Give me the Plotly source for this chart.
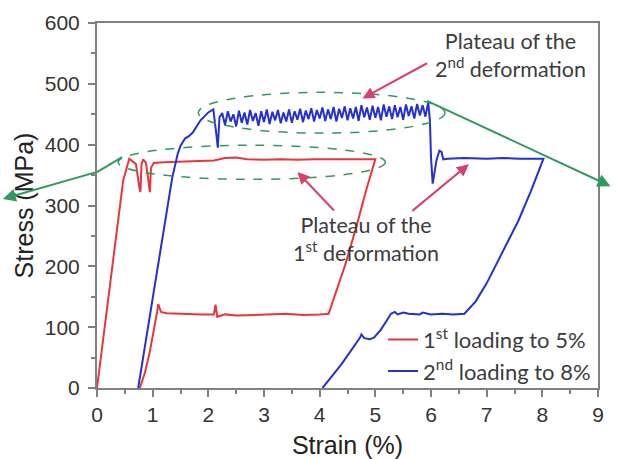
import plotly.graph_objects as go

# ---------------- data ----------------
# 1st loading to 5% (loading, plateau, unloading, lower plateau, unloading to zero)
red_strain = [0.00, 0.47, 0.58, 0.64, 0.70, 0.76, 0.78, 0.80, 0.83, 0.88, 0.93, 0.95, 0.97, 1.02,
              1.20, 1.50, 1.80, 2.10, 2.30, 2.50, 2.70, 3.00, 3.30, 3.60, 3.90, 4.20, 4.50, 4.80, 5.00,
              4.85, 4.65, 4.45, 4.30, 4.16,
              4.00, 3.70, 3.40, 3.10, 2.80, 2.50, 2.30, 2.16, 2.13, 2.10, 1.90, 1.60, 1.40, 1.25, 1.15, 1.10, 1.08,
              1.02, 0.95, 0.86, 0.77]
red_stress = [0, 341, 377, 372, 368, 330, 322, 368, 376, 370, 330, 322, 362, 370,
              371, 372, 373, 374, 378, 379, 376, 375, 376, 375, 376, 376, 375, 376, 376,
              330, 262, 200, 160, 122,
              121, 120, 122, 121, 120, 119, 121, 117, 137, 121, 121, 122, 123, 123, 125, 138, 125,
              95, 60, 25, 0]

# 2nd loading to 8%
blue_load_strain = [0.74, 1.20, 1.35, 1.45, 1.50, 1.58, 1.65, 1.72, 1.86, 2.00, 2.09, 2.14, 2.17, 2.20]
blue_load_stress = [0, 261, 345, 385, 398, 410, 414, 420, 440, 453, 458, 420, 395, 445]

blue_plateau_strain = [2.25, 2.30, 2.35, 2.40, 2.45, 2.50, 2.55, 2.60, 2.65, 2.70, 2.75, 2.80, 2.85, 2.90,
                       2.95, 3.00, 3.05, 3.10, 3.15, 3.20, 3.25, 3.30, 3.35, 3.40, 3.45, 3.50, 3.55, 3.60,
                       3.65, 3.70, 3.75, 3.80, 3.85, 3.90, 3.95, 4.00, 4.05, 4.10, 4.15, 4.20, 4.25, 4.30,
                       4.35, 4.40, 4.45, 4.50, 4.55, 4.60, 4.65, 4.70, 4.75, 4.80, 4.85, 4.90, 4.95, 5.00,
                       5.05, 5.10, 5.15, 5.20, 5.25, 5.30, 5.35, 5.40, 5.45, 5.50, 5.55, 5.60, 5.65, 5.70,
                       5.75, 5.80, 5.85, 5.90, 5.95]
blue_plateau_stress = [452, 432, 455, 438, 450, 430, 456, 436, 453, 433, 457, 439, 452, 431,
                       455, 437, 458, 434, 454, 440, 457, 435, 453, 438, 458, 436, 455, 441,
                       459, 437, 456, 442, 460, 438, 457, 443, 461, 439, 458, 442, 462, 438,
                       459, 444, 463, 440, 460, 443, 462, 439, 465, 445, 461, 441, 464, 444,
                       462, 440, 466, 446, 463, 442, 465, 445, 462, 441, 466, 447, 463, 443,
                       467, 448, 465, 446, 470]

blue_rest_strain = [5.98, 6.00, 6.03, 6.06, 6.10, 6.15, 6.19, 6.22, 6.30, 6.60, 7.00, 7.30, 7.60, 8.02,
                    7.80, 7.57, 7.30, 7.00, 6.80, 6.60,
                    6.40, 6.20, 6.00, 5.85, 5.80, 5.60, 5.50, 5.40, 5.35, 5.28,
                    5.20, 5.10, 4.98, 4.90, 4.80, 4.75, 4.72, 4.60, 4.40, 4.20, 4.05]
blue_rest_stress = [440, 380, 336, 350, 375, 390, 388, 376, 377, 378, 377, 378, 377, 377,
                    325, 275, 225, 172, 142, 122,
                    121, 122, 121, 124, 121, 122, 124, 121, 125, 122,
                    110, 96, 83, 80, 82, 88, 82, 66, 40, 17, 0]

blue_strain = blue_load_strain + blue_plateau_strain + blue_rest_strain
blue_stress = blue_load_stress + blue_plateau_stress + blue_rest_stress

x_ticks = [0, 1, 2, 3, 4, 5, 6, 7, 8, 9]
y_ticks = [0, 100, 200, 300, 400, 500, 600]

RED = "#e8363c"
BLUE = "#2430d0"
GREEN = "#2f9a5c"
PINK = "#d9406f"
AXIS = "#808080"
TXT = "#3c3c3c"
NOTE_FONT = dict(family="Lato", size=21.5, color=TXT)

fig = go.Figure()
fig.add_trace(go.Scatter(x=red_strain, y=red_stress, mode="lines",
                         line=dict(color=RED, width=2),
                         name="1<sup>st</sup> loading to 5%"))
fig.add_trace(go.Scatter(x=blue_strain, y=blue_stress, mode="lines",
                         line=dict(color=BLUE, width=2),
                         name="2<sup>nd</sup> loading to 8%"))

# dashed ellipses around the plateaus
fig.add_shape(type="circle", xref="x", yref="y", x0=0.38, x1=5.18, y0=343, y1=399,
              line=dict(color=GREEN, width=1.5, dash="dash"))
fig.add_shape(type="circle", xref="x", yref="y", x0=1.82, x1=6.25, y0=419, y1=486,
              line=dict(color=GREEN, width=1.5, dash="dash"))

# green connector lines (outside plot too)
fig.add_shape(type="line", xref="paper", yref="paper", x0=0.0, y0=0.5916, x1=0.05, y1=0.6327,
              line=dict(color=GREEN, width=2))
fig.add_annotation(xref="paper", yref="paper", x=-0.188, y=0.518, ax=94, ay=-27,
                   axref="pixel", ayref="pixel", text="", showarrow=True,
                   arrowhead=2, arrowsize=1.3, arrowwidth=2, arrowcolor=GREEN)
fig.add_annotation(xref="paper", yref="paper", x=1.025, y=0.553, ax=-185, ay=-86,
                   axref="pixel", ayref="pixel", text="", showarrow=True,
                   arrowhead=2, arrowsize=1.3, arrowwidth=2, arrowcolor=GREEN)

# pink pointer arrows
for hx, hy, ax, ay in [(4.77, 476, 66, -36), (3.60, 355, 38, 40), (6.68, 368, -58, 48)]:
    fig.add_annotation(x=hx, y=hy, ax=ax, ay=ay, text="", showarrow=True,
                       arrowhead=2, arrowsize=1.2, arrowwidth=2, arrowcolor=PINK)

# annotation texts
fig.add_annotation(x=7.43, y=548, text="Plateau of the<br>2<sup>nd</sup> deformation",
                   showarrow=False, font=NOTE_FONT, align="center")
fig.add_annotation(x=4.84, y=245, text="Plateau of the<br>1<sup>st</sup> deformation",
                   showarrow=False, font=NOTE_FONT, align="center")

axis_common = dict(showline=True, linecolor=AXIS, linewidth=2, mirror=True,
                   ticks="outside", tickcolor=AXIS, tickwidth=1.5, ticklen=7,
                   showgrid=False, zeroline=False, automargin=False,
                   tickfont=dict(family="Liberation Sans", size=21, color="#333333"))

fig.update_xaxes(range=[0, 9], tickvals=x_ticks, ticktext=[str(v) for v in x_ticks],
                 minor=dict(dtick=0.5, ticks="outside", ticklen=4, tickcolor=AXIS),
                 title=dict(text="Strain (%)", font=dict(family="Liberation Sans", size=25, color="#222222"),
                            standoff=12),
                 **axis_common)
fig.update_yaxes(range=[0, 600], tickvals=y_ticks, ticktext=[str(v) for v in y_ticks],
                 minor=dict(dtick=50, ticks="outside", ticklen=4, tickcolor=AXIS),
                 ticklabelstandoff=4,
                 title=dict(text="Stress (MPa)", font=dict(family="Liberation Sans", size=25, color="#222222"),
                            standoff=4),
                 **axis_common)

fig.update_layout(width=617, height=459, margin=dict(l=97, r=19, t=23, b=71),
                  paper_bgcolor="white", plot_bgcolor="white",
                  legend=dict(x=0.571, y=0.19, xanchor="left", yanchor="top",
                              bgcolor="rgba(0,0,0,0)", font=dict(family="Lato", size=22, color=TXT),
                              tracegroupgap=0, itemwidth=30))

fig.write_html("out.html")
